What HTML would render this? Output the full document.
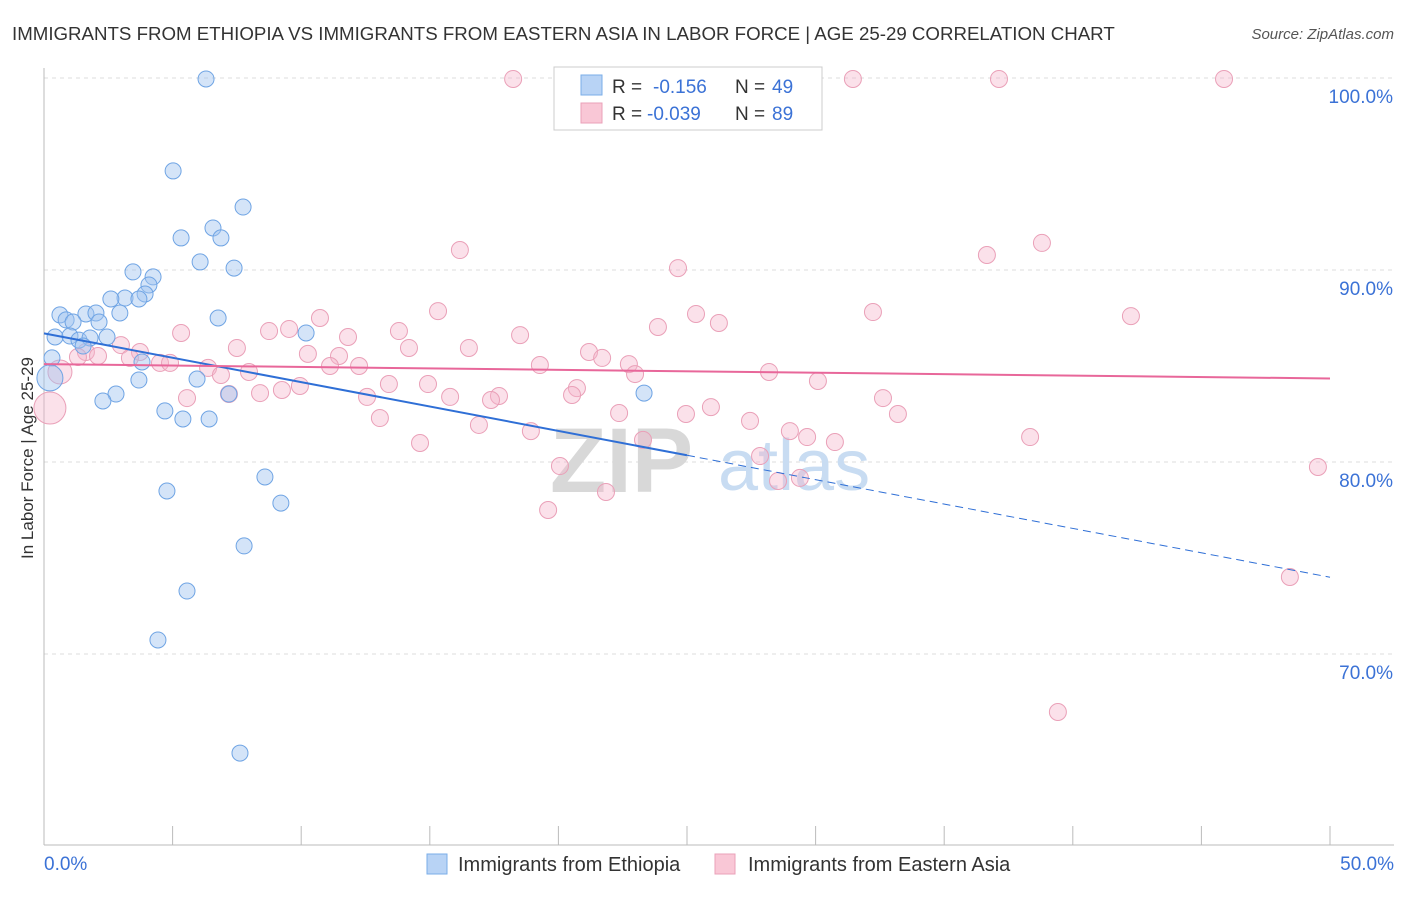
<!DOCTYPE html>
<html><head><meta charset="utf-8"><style>
body{margin:0;background:#fff;font-family:"Liberation Sans",sans-serif;}
svg text{font-family:"Liberation Sans",sans-serif;}
</style></head><body>
<svg id="chart" width="1406" height="892" viewBox="0 0 1406 892" xmlns="http://www.w3.org/2000/svg">
<text x="12" y="40" font-size="18.7" fill="#333">IMMIGRANTS FROM ETHIOPIA VS IMMIGRANTS FROM EASTERN ASIA IN LABOR FORCE | AGE 25-29 CORRELATION CHART</text>
<text x="1394" y="39" font-size="15" fill="#555" text-anchor="end" font-style="italic">Source: ZipAtlas.com</text>
<text transform="translate(33,458) rotate(-90)" font-size="17" fill="#333" text-anchor="middle">In Labor Force | Age 25-29</text>
<g id="grid"></g>
<g id="wm">
<text x="550" y="492" font-size="92" fill="#d8d8d8" font-family="Liberation Serif" font-weight="bold">ZIP</text>
<text x="718" y="490" font-size="72" fill="#c8dcf2">atlas</text>
</g>
<g id="axes"></g>
<g id="pts"></g>
<g id="trends"></g>
<g>
<rect x="554" y="67" width="268" height="63" fill="#fff" stroke="#ccc"/>
<rect x="581" y="75" width="21" height="20" fill="#b8d3f5" stroke="#7aaee8"/>
<rect x="581" y="103" width="21" height="20" fill="#f9c7d6" stroke="#eaa0b8"/>
<text x="612" y="93" font-size="19" fill="#333">R =</text>
<text x="653" y="93" font-size="19" fill="#3b72d6">-0.156</text>
<text x="735" y="93" font-size="19" fill="#333">N =</text>
<text x="772" y="93" font-size="19" fill="#3b72d6">49</text>
<text x="612" y="120" font-size="19" fill="#333">R =</text>
<text x="647" y="120" font-size="19" fill="#3b72d6">-0.039</text>
<text x="735" y="120" font-size="19" fill="#333">N =</text>
<text x="772" y="120" font-size="19" fill="#3b72d6">89</text>
</g>
<g>
<rect x="427" y="854" width="20" height="20" fill="#b8d3f5" stroke="#7aaee8"/>
<text x="458" y="871" font-size="20" fill="#333">Immigrants from Ethiopia</text>
<rect x="715" y="854" width="20" height="20" fill="#f9c7d6" stroke="#eaa0b8"/>
<text x="748" y="871" font-size="20" fill="#333">Immigrants from Eastern Asia</text>
</g>
</svg>
<script>
const yTicks=[100,90,80,70];
const yTickLabels=["100.0%","90.0%","80.0%","70.0%"];
const xTickLabels=["0.0%","50.0%"];
const blueX=[6.30,5.02,7.74,5.33,6.57,6.88,6.07,7.39,3.46,4.24,4.08,3.93,3.15,3.69,2.60,0.62,1.63,2.02,2.95,0.86,1.13,2.14,6.77,10.19,0.43,1.01,1.36,1.79,2.45,1.52,0.31,3.81,3.69,5.95,2.80,2.29,7.19,4.70,5.40,6.42,23.33,8.59,4.78,9.21,7.78,5.56,4.43,7.62,0.23];
const blueY=[99.95,95.16,93.28,91.67,92.19,91.67,90.42,90.10,89.90,89.64,89.22,88.75,88.54,88.49,88.49,87.66,87.71,87.76,87.76,87.40,87.29,87.29,87.50,86.72,86.51,86.56,86.35,86.46,86.51,86.04,85.42,85.21,84.27,84.32,83.54,83.18,83.54,82.66,82.24,82.24,83.59,79.22,78.49,77.86,75.63,73.28,70.73,64.84,84.38];
const pinkX=[18.24,31.45,37.13,45.88,16.17,24.65,36.66,38.80,15.32,32.23,42.26,25.35,26.24,10.73,5.33,8.75,9.53,11.82,13.80,18.51,23.87,16.52,14.19,10.26,11.47,21.19,21.70,22.74,19.28,7.50,2.99,3.73,1.63,2.10,1.32,3.34,4.51,11.12,12.25,4.90,6.38,7.97,6.88,22.98,28.19,30.09,13.41,14.93,9.95,8.40,9.25,7.19,5.56,12.56,15.79,17.69,20.72,20.53,17.38,22.36,24.96,25.93,27.45,32.62,33.20,13.06,16.91,18.93,23.29,29.00,29.67,30.75,38.34,27.84,14.62,20.06,21.85,19.60,28.54,29.39,49.53,48.44,39.42,0.23,0.62];
const pinkY=[99.95,99.95,99.95,99.95,91.04,90.10,90.78,91.41,87.86,87.81,87.60,87.71,87.24,87.50,86.72,86.82,86.93,86.51,86.82,86.61,87.03,85.94,85.94,85.63,85.52,85.73,85.42,85.10,85.05,85.94,86.09,85.73,85.73,85.52,85.47,85.42,85.16,85.00,85.00,85.16,84.90,84.69,84.53,84.58,84.69,84.22,84.06,84.06,83.96,83.59,83.75,83.54,83.33,83.39,83.39,83.44,83.85,83.49,83.23,82.55,82.50,82.86,82.14,83.33,82.50,82.29,81.93,81.61,81.15,81.61,81.30,81.04,81.30,80.31,80.99,79.79,78.44,77.50,79.01,79.17,79.74,74.01,66.98,82.81,84.69];
const blueTrend=[[0,86.7],[25,80.35],[50,74.0]];
const pinkTrend=[[0,85.1],[50,84.35]];

const NS="http://www.w3.org/2000/svg";
const X=v=>44+v*25.72;
const Y=v=>78+(100-v)*19.2;
function mk(tag,attrs,parent){const e=document.createElementNS(NS,tag);for(const k in attrs)e.setAttribute(k,attrs[k]);parent.appendChild(e);return e;}
const grid=document.getElementById('grid'),axes=document.getElementById('axes');
yTicks.forEach((t,i)=>{
  const l=mk('line',{x1:44,x2:1394,y1:Y(t),y2:Y(t),stroke:'#ddd','stroke-dasharray':'4,4'},grid);
  
  
  const tx=mk('text',{x:1393,y:Y(t)+25,'font-size':19,fill:'#3b72d6','text-anchor':'end'},axes);
  tx.textContent=yTickLabels[i];
  
  
});
mk('line',{x1:44,x2:44,y1:68,y2:845,stroke:'#bbb'},axes);
mk('line',{x1:44,x2:1394,y1:845,y2:845,stroke:'#bbb'},axes);
for(let i=0;i<=10;i++){mk('line',{x1:X(i*5),x2:X(i*5),y1:826,y2:845,stroke:'#bbb'},axes);}
[[0,44,'start'],[1,1394,'end']].forEach(([i,x,a])=>{
  const t=mk('text',{x:x,y:870,'font-size':19,fill:'#3b72d6','text-anchor':a},axes);
  t.textContent=xTickLabels[i];
  
  
});
const pts=document.getElementById('pts');
pinkX.forEach((x,i)=>{
  const big=i>=pinkX.length-2;
  const c=mk('circle',{cx:X(x),cy:Y(pinkY[i]),r:big?(i==pinkX.length-2?16:12):8.5,fill:'rgba(245,180,202,0.4)',stroke:'#eaa0b8','stroke-width':1},pts);
  
  
});
blueX.forEach((x,i)=>{
  const big=i==blueX.length-1;
  const c=mk('circle',{cx:X(x),cy:Y(blueY[i]),r:big?13:8,fill:'rgba(160,196,240,0.45)',stroke:'#6fa4e4','stroke-width':1},pts);
  
  
});
const tr=document.getElementById('trends');
const b1=mk('line',{x1:X(blueTrend[0][0]),y1:Y(blueTrend[0][1]),x2:X(blueTrend[1][0]),y2:Y(blueTrend[1][1]),stroke:'#2f6fd6','stroke-width':2},tr);


const b2=mk('line',{x1:X(blueTrend[1][0]),y1:Y(blueTrend[1][1]),x2:X(blueTrend[2][0]),y2:Y(blueTrend[2][1]),stroke:'#2f6fd6','stroke-width':1,'stroke-dasharray':'8,5'},tr);


const p1=mk('line',{x1:X(pinkTrend[0][0]),y1:Y(pinkTrend[0][1]),x2:X(pinkTrend[1][0]),y2:Y(pinkTrend[1][1]),stroke:'#e8679a','stroke-width':2},tr);


</script>
</body></html>
